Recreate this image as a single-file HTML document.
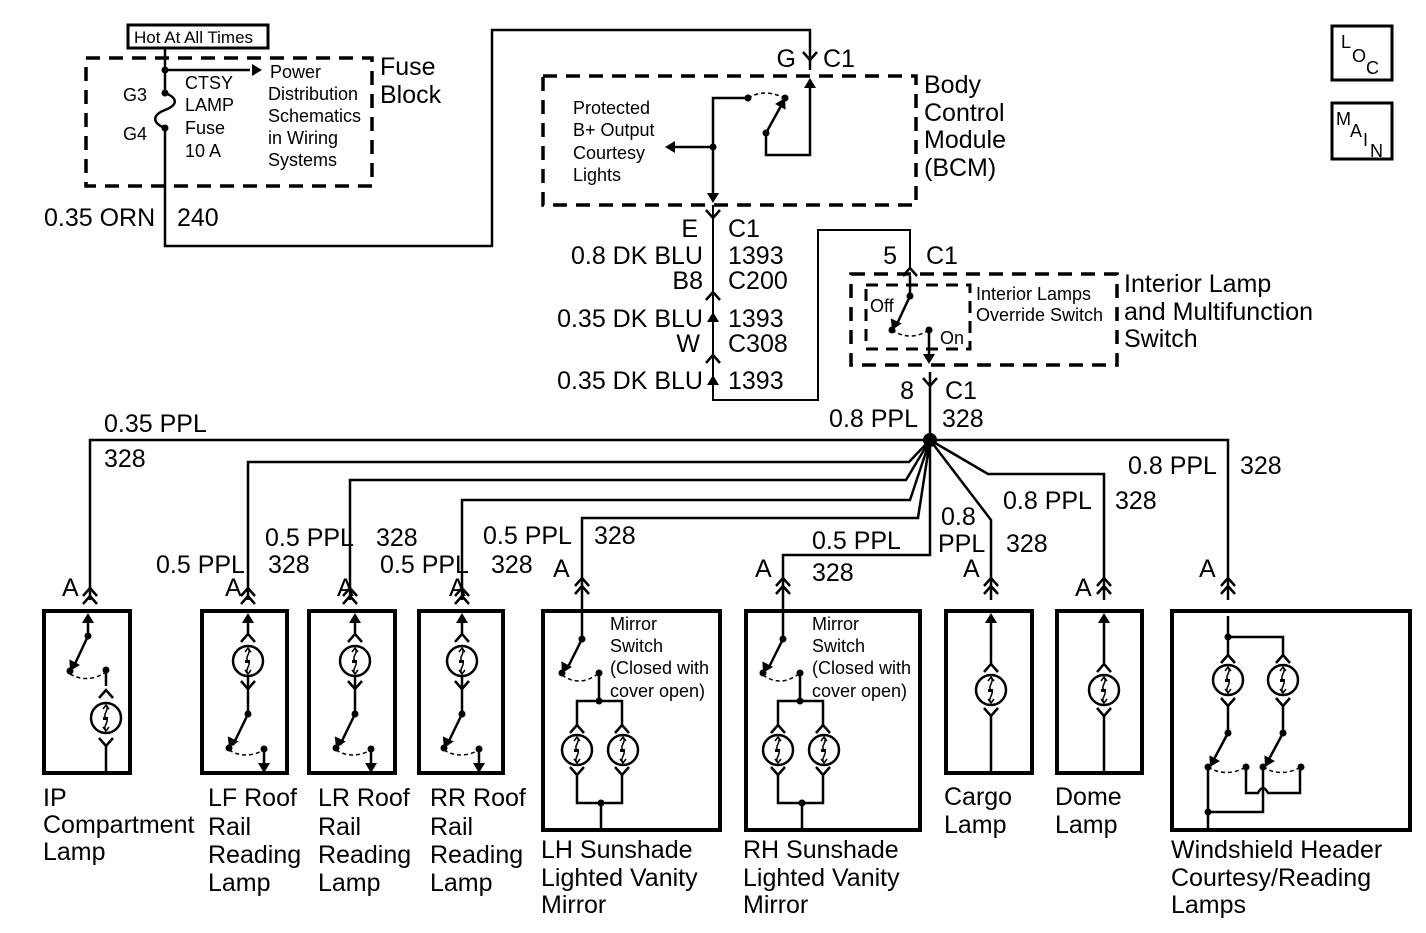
<!DOCTYPE html>
<html><head><meta charset="utf-8"><style>
html,body{margin:0;padding:0;background:#fff}
svg{display:block}
text{font-family:"Liberation Sans",Arial,sans-serif;fill:#000}
.l{font-size:25px}
.s{font-size:18px}
.e{text-anchor:end}
</style></head><body>
<svg width="1426" height="933" viewBox="0 0 1426 933" xmlns="http://www.w3.org/2000/svg">
<defs>
<g id="lamp"><circle r="15" fill="none" stroke="#000" stroke-width="2.5"/><path d="M0,-13 C4,-8 -4,-4 0,0 C4,4 -4,8 0,13" fill="none" stroke="#000" stroke-width="1.5"/><path d="M-3,-9 L0,-13 L3,-9 M-3,9 L0,13 L3,9" fill="none" stroke="#000" stroke-width="1.5"/><rect x="-3" y="-1" width="5" height="3"/></g>
<path id="up" d="M-7,8 L0,0 L7,8" fill="none" stroke="#000" stroke-width="2.5"/>
<path id="dn" d="M-7,-8 L0,0 L7,-8" fill="none" stroke="#000" stroke-width="2.5"/>
<path id="ah" d="M-6,10 L0,0 L6,10 Z"/>
</defs>
<g fill="none" stroke="#000">
<rect x="128" y="25" width="140" height="23" stroke-width="3"/>
<rect x="86" y="58" width="286" height="128" stroke-width="3.5" stroke-dasharray="14,9"/>
<path d="M165,48 V93 M165,128 V246 H492 V30 H810 V70" stroke-width="2.5"/>
<path d="M165,93 C178,98 178,105 165,110 C152,115 152,123 165,128" stroke-width="2.5"/>
<path d="M165,70 H250" stroke-width="2.5"/>
<rect x="543" y="76" width="373" height="129" stroke-width="3.5" stroke-dasharray="14,9"/>
<path d="M810,82 V155 H766 V133" stroke-width="2.5"/>
<path d="M766,133 L782,104" stroke-width="2.5"/>
<path d="M748,98 Q765,88 784,98" stroke-width="1.5" stroke-dasharray="4,3"/>
<path d="M748,98 H713 V198 M713,147 H675" stroke-width="2.5"/>
<path d="M713,205 V400 H818 V230 H910 V270" stroke-width="2"/>
<rect x="851" y="274" width="266" height="91" stroke-width="3.5" stroke-dasharray="14,9"/>
<rect x="866" y="285" width="104" height="64" stroke-width="3" stroke-dasharray="12,8"/>
<path d="M910,276 V296 L896,326" stroke-width="2.5"/>
<path d="M892,330 Q910,342 929,330" stroke-width="1.5" stroke-dasharray="4,3"/>
<path d="M929,330 V360 M930,372 V440" stroke-width="2.5"/>
<path d="M930,440 H90 V600 M930,440 H1228 V600" stroke-width="2.5"/>
<path d="M930,440 L909,462 H248 V600 M930,440 L906,480 H350 V600 M930,440 L910,500 H462 V600 M930,440 L918,518 H582 V600 M930,440 V555 H783 V600" stroke-width="2.5"/>
<path d="M930,440 L991,520 V600 M930,440 L988,474 H1104 V600" stroke-width="2.5"/>
<g stroke-width="4">
<rect x="44" y="611" width="86" height="162"/>
<rect x="202" y="611" width="85" height="162"/>
<rect x="309" y="611" width="86" height="162"/>
<rect x="419" y="611" width="84" height="162"/>
<rect x="543" y="611" width="177" height="219"/>
<rect x="746" y="611" width="174" height="219"/>
<rect x="946" y="611" width="86" height="162"/>
<rect x="1057" y="611" width="85" height="162"/>
<rect x="1172" y="611" width="238" height="219"/>
</g>
<path d="M88,616 V636 L73,668 M106,670 V686 M106,746 V773" stroke-width="2.5"/>
<path d="M70,674 Q88,684 106,672" stroke-width="1.5" stroke-dasharray="4,3"/>
<path d="M248,616 V634 M248,677 V714 L233,745 M264,749 V770" stroke-width="2.5"/>
<path d="M229,750 Q245,760 264,750" stroke-width="1.5" stroke-dasharray="4,3"/>
<path d="M355,616 V634 M355,677 V714 L340,745 M371,749 V770" stroke-width="2.5"/>
<path d="M336,750 Q352,760 371,750" stroke-width="1.5" stroke-dasharray="4,3"/>
<path d="M462,616 V634 M462,677 V714 L447,745 M479,749 V770" stroke-width="2.5"/>
<path d="M444,750 Q460,760 479,750" stroke-width="1.5" stroke-dasharray="4,3"/>
<path d="M582,600 V639 L568,667 M599,673 V701 M577,725 V701 H622 V725 M577,775 V803 H622 V775 M601,803 V830" stroke-width="2.5"/>
<path d="M562,675 Q580,688 599,673" stroke-width="1.5" stroke-dasharray="4,3"/>
<path d="M783,600 V639 L769,667 M800,673 V701 M778,725 V701 H823 V725 M778,775 V803 H823 V775 M802,803 V830" stroke-width="2.5"/>
<path d="M763,675 Q781,688 800,673" stroke-width="1.5" stroke-dasharray="4,3"/>
<path d="M991,616 V664 M991,716 V773 M1104,616 V664 M1104,716 V773" stroke-width="2.5"/>
<path d="M1228,616 V655 M1228,637 H1283 V655 M1228,706 V733 L1213,761 M1283,706 V733 L1268,761" stroke-width="2.5"/>
<path d="M1208,767 Q1226,778 1246,767 M1263,767 Q1281,778 1301,767" stroke-width="1.5" stroke-dasharray="4,3"/>
<path d="M1208,767 V830 M1246,767 V793 H1258 Q1263,783 1268,793 H1300 V767 M1263,767 V812 H1208" stroke-width="2.5"/>
<rect x="1332" y="26" width="60" height="54" stroke-width="3"/>
<rect x="1332" y="103" width="60" height="56" stroke-width="3"/>
</g>
<g>
<circle cx="165" cy="70" r="3.5"/><circle cx="165" cy="93" r="3.5"/><circle cx="165" cy="128" r="3.5"/>
<circle cx="766" cy="133" r="3.5"/><circle cx="785" cy="98" r="3.5"/><circle cx="748" cy="98" r="3.5"/><circle cx="713" cy="147" r="3.5"/>
<circle cx="910" cy="296" r="3.5"/><circle cx="892" cy="330" r="3.5"/><circle cx="929" cy="330" r="3.5"/>
<circle cx="930" cy="440" r="7"/>
<circle cx="88" cy="636" r="3.5"/><circle cx="70" cy="671" r="3.5"/><circle cx="106" cy="670" r="3.5"/>
<circle cx="248" cy="714" r="3.5"/><circle cx="229" cy="748" r="3.5"/><circle cx="264" cy="749" r="3.5"/>
<circle cx="355" cy="714" r="3.5"/><circle cx="336" cy="748" r="3.5"/><circle cx="371" cy="749" r="3.5"/>
<circle cx="462" cy="714" r="3.5"/><circle cx="444" cy="748" r="3.5"/><circle cx="479" cy="749" r="3.5"/>
<circle cx="582" cy="639" r="3.5"/><circle cx="562" cy="673" r="3.5"/><circle cx="599" cy="673" r="3.5"/><circle cx="599" cy="701" r="3.5"/><circle cx="601" cy="803" r="3.5"/>
<circle cx="783" cy="639" r="3.5"/><circle cx="763" cy="673" r="3.5"/><circle cx="800" cy="673" r="3.5"/><circle cx="800" cy="701" r="3.5"/><circle cx="802" cy="803" r="3.5"/>
<circle cx="1228" cy="637" r="3.5"/><circle cx="1228" cy="733" r="3.5"/><circle cx="1283" cy="733" r="3.5"/>
<circle cx="1208" cy="767" r="3.5"/><circle cx="1246" cy="767" r="3.5"/><circle cx="1263" cy="767" r="3.5"/><circle cx="1301" cy="767" r="3.5"/><circle cx="1208" cy="812" r="3.5"/>
</g>
<use href="#ah" transform="translate(262,70) rotate(90)"/>
<use href="#ah" transform="translate(810,78)"/>
<use href="#ah" transform="translate(785,98) rotate(28)"/>
<use href="#ah" transform="translate(713,203) rotate(180)"/>
<use href="#ah" transform="translate(665,147) rotate(-90)"/>
<use href="#ah" transform="translate(892,330) rotate(-155)"/>
<use href="#ah" transform="translate(929,364) rotate(180)"/>
<use href="#ah" transform="translate(713,375)"/>
<use href="#ah" transform="translate(713,312)"/>
<g>
<use href="#ah" transform="translate(88,613)"/><use href="#ah" transform="translate(70,671) rotate(-152)"/>
<use href="#ah" transform="translate(248,613)"/><use href="#ah" transform="translate(229,748) rotate(-155)"/><use href="#ah" transform="translate(264,773) rotate(180)"/>
<use href="#ah" transform="translate(355,613)"/><use href="#ah" transform="translate(336,748) rotate(-155)"/><use href="#ah" transform="translate(371,773) rotate(180)"/>
<use href="#ah" transform="translate(462,613)"/><use href="#ah" transform="translate(444,748) rotate(-155)"/><use href="#ah" transform="translate(479,773) rotate(180)"/>
<use href="#ah" transform="translate(562,673) rotate(-152)"/><use href="#ah" transform="translate(763,673) rotate(-152)"/>
<use href="#ah" transform="translate(991,613)"/><use href="#ah" transform="translate(1104,613)"/>
<use href="#ah" transform="translate(1210,767) rotate(-152)"/><use href="#ah" transform="translate(1265,767) rotate(-152)"/>
</g>
<use href="#dn" transform="translate(810,60)"/>
<use href="#dn" transform="translate(713,218)"/>
<use href="#up" transform="translate(713,292)"/>
<use href="#up" transform="translate(713,355)"/>
<use href="#up" transform="translate(910,268)"/>
<use href="#dn" transform="translate(930,386)"/>
<g>
<use href="#up" transform="translate(90,588)"/><use href="#up" transform="translate(90,596)"/>
<use href="#up" transform="translate(248,588)"/><use href="#up" transform="translate(248,596)"/>
<use href="#up" transform="translate(350,588)"/><use href="#up" transform="translate(350,596)"/>
<use href="#up" transform="translate(462,588)"/><use href="#up" transform="translate(462,596)"/>
<use href="#up" transform="translate(582,578)"/><use href="#up" transform="translate(582,586)"/>
<use href="#up" transform="translate(783,578)"/><use href="#up" transform="translate(783,586)"/>
<use href="#up" transform="translate(991,578)"/><use href="#up" transform="translate(991,586)"/>
<use href="#up" transform="translate(1104,578)"/><use href="#up" transform="translate(1104,586)"/>
<use href="#up" transform="translate(1228,578)"/><use href="#up" transform="translate(1228,586)"/>
<use href="#up" transform="translate(106,690)"/><use href="#dn" transform="translate(106,746)"/>
<use href="#up" transform="translate(248,634)"/><use href="#dn" transform="translate(248,689)"/>
<use href="#up" transform="translate(355,634)"/><use href="#dn" transform="translate(355,689)"/>
<use href="#up" transform="translate(462,634)"/><use href="#dn" transform="translate(462,689)"/>
<use href="#up" transform="translate(577,725)"/><use href="#dn" transform="translate(577,775)"/>
<use href="#up" transform="translate(622,725)"/><use href="#dn" transform="translate(622,775)"/>
<use href="#up" transform="translate(778,725)"/><use href="#dn" transform="translate(778,775)"/>
<use href="#up" transform="translate(823,725)"/><use href="#dn" transform="translate(823,775)"/>
<use href="#up" transform="translate(991,664)"/><use href="#dn" transform="translate(991,716)"/>
<use href="#up" transform="translate(1104,664)"/><use href="#dn" transform="translate(1104,716)"/>
<use href="#up" transform="translate(1228,655)"/><use href="#dn" transform="translate(1228,706)"/>
<use href="#up" transform="translate(1283,655)"/><use href="#dn" transform="translate(1283,706)"/>
</g>
<use href="#lamp" transform="translate(106,718)"/>
<use href="#lamp" transform="translate(248,661)"/>
<use href="#lamp" transform="translate(355,661)"/>
<use href="#lamp" transform="translate(462,661)"/>
<use href="#lamp" transform="translate(577,750)"/><use href="#lamp" transform="translate(623,750)"/>
<use href="#lamp" transform="translate(778,750)"/><use href="#lamp" transform="translate(824,750)"/>
<use href="#lamp" transform="translate(991,690)"/>
<use href="#lamp" transform="translate(1104,690)"/>
<use href="#lamp" transform="translate(1228,680)"/><use href="#lamp" transform="translate(1283,680)"/>
<text class="s" x="134" y="43" style="font-size:17px">Hot At All Times</text>
<text class="s" x="123" y="101">G3</text><text class="s" x="123" y="140">G4</text>
<text class="s" x="185" y="89">CTSY</text><text class="s" x="185" y="111">LAMP</text><text class="s" x="185" y="134">Fuse</text><text class="s" x="185" y="157">10 A</text>
<text class="s" x="270" y="78">Power</text><text class="s" x="268" y="100">Distribution</text><text class="s" x="268" y="122">Schematics</text><text class="s" x="268" y="144">in Wiring</text><text class="s" x="268" y="166">Systems</text>
<text class="l" x="380" y="75">Fuse</text><text class="l" x="380" y="103">Block</text>
<text class="l" x="44" y="226">0.35 ORN</text><text class="l" x="177" y="226">240</text>
<text class="l e" x="796" y="67">G</text><text class="l" x="823" y="67">C1</text>
<text class="s" x="573" y="114">Protected</text><text class="s" x="573" y="136">B+ Output</text><text class="s" x="573" y="159">Courtesy</text><text class="s" x="573" y="181">Lights</text>
<text class="l" x="924" y="93">Body</text><text class="l" x="924" y="121">Control</text><text class="l" x="924" y="148">Module</text><text class="l" x="924" y="176">(BCM)</text>
<text class="l e" x="698" y="237">E</text><text class="l" x="728" y="237">C1</text>
<text class="l e" x="703" y="264">0.8 DK BLU</text><text class="l" x="728" y="264">1393</text>
<text class="l e" x="703" y="289">B8</text><text class="l" x="728" y="289">C200</text>
<text class="l e" x="703" y="327">0.35 DK BLU</text><text class="l" x="728" y="327">1393</text>
<text class="l e" x="700" y="352">W</text><text class="l" x="728" y="352">C308</text>
<text class="l e" x="703" y="389">0.35 DK BLU</text><text class="l" x="728" y="389">1393</text>
<text class="l e" x="897" y="264">5</text><text class="l" x="926" y="264">C1</text>
<text class="s" x="976" y="300">Interior Lamps</text><text class="s" x="976" y="321">Override Switch</text>
<text class="s" x="870" y="312">Off</text><text class="s" x="940" y="344">On</text>
<text class="l" x="1124" y="292">Interior Lamp</text><text class="l" x="1124" y="320">and Multifunction</text><text class="l" x="1124" y="347">Switch</text>
<text class="l e" x="914" y="399">8</text><text class="l" x="945" y="399">C1</text>
<text class="l e" x="918" y="427">0.8 PPL</text><text class="l" x="942" y="427">328</text>
<text class="l" x="104" y="432">0.35 PPL</text><text class="l" x="104" y="467">328</text>
<text class="l" x="1128" y="474">0.8 PPL</text><text class="l" x="1240" y="474">328</text>
<text class="l" x="1003" y="509">0.8 PPL</text><text class="l" x="1115" y="509">328</text>
<text class="l" x="941" y="525">0.8</text><text class="l" x="938" y="552">PPL</text><text class="l" x="1006" y="552">328</text>
<text class="l" x="265" y="546">0.5 PPL</text><text class="l" x="376" y="546">328</text>
<text class="l" x="483" y="544">0.5 PPL</text><text class="l" x="594" y="544">328</text>
<text class="l" x="156" y="573">0.5 PPL</text><text class="l" x="268" y="573">328</text>
<text class="l" x="380" y="573">0.5 PPL</text><text class="l" x="491" y="573">328</text>
<text class="l" x="812" y="549">0.5 PPL</text><text class="l" x="812" y="581">328</text>
<text class="l" x="62" y="596">A</text><text class="l" x="225" y="596">A</text><text class="l" x="337" y="596">A</text><text class="l" x="449" y="596">A</text>
<text class="l" x="553" y="577">A</text><text class="l" x="755" y="577">A</text><text class="l" x="963" y="577">A</text><text class="l" x="1075" y="596">A</text><text class="l" x="1199" y="577">A</text>
<text class="s" x="610" y="630">Mirror</text><text class="s" x="610" y="652">Switch</text><text class="s" x="610" y="674">(Closed with</text><text class="s" x="610" y="697">cover open)</text>
<text class="s" x="812" y="630">Mirror</text><text class="s" x="812" y="652">Switch</text><text class="s" x="812" y="674">(Closed with</text><text class="s" x="812" y="697">cover open)</text>
<text class="l" x="43" y="806">IP</text><text class="l" x="43" y="833">Compartment</text><text class="l" x="43" y="860">Lamp</text>
<text class="l" x="208" y="806">LF Roof</text><text class="l" x="208" y="835">Rail</text><text class="l" x="208" y="863">Reading</text><text class="l" x="208" y="891">Lamp</text>
<text class="l" x="318" y="806">LR Roof</text><text class="l" x="318" y="835">Rail</text><text class="l" x="318" y="863">Reading</text><text class="l" x="318" y="891">Lamp</text>
<text class="l" x="430" y="806">RR Roof</text><text class="l" x="430" y="835">Rail</text><text class="l" x="430" y="863">Reading</text><text class="l" x="430" y="891">Lamp</text>
<text class="l" x="541" y="858">LH Sunshade</text><text class="l" x="541" y="886">Lighted Vanity</text><text class="l" x="541" y="913">Mirror</text>
<text class="l" x="743" y="858">RH Sunshade</text><text class="l" x="743" y="886">Lighted Vanity</text><text class="l" x="743" y="913">Mirror</text>
<text class="l" x="944" y="805">Cargo</text><text class="l" x="944" y="833">Lamp</text>
<text class="l" x="1055" y="805">Dome</text><text class="l" x="1055" y="833">Lamp</text>
<text class="l" x="1171" y="858">Windshield Header</text><text class="l" x="1171" y="886">Courtesy/Reading</text><text class="l" x="1171" y="913">Lamps</text>
<text class="s" x="1341" y="48">L</text><text class="s" x="1352" y="62">O</text><text class="s" x="1366" y="74">C</text>
<text class="s" x="1336" y="125">M</text><text class="s" x="1350" y="137">A</text><text class="s" x="1363" y="146">I</text><text class="s" x="1370" y="157">N</text>
</svg>
</body></html>
